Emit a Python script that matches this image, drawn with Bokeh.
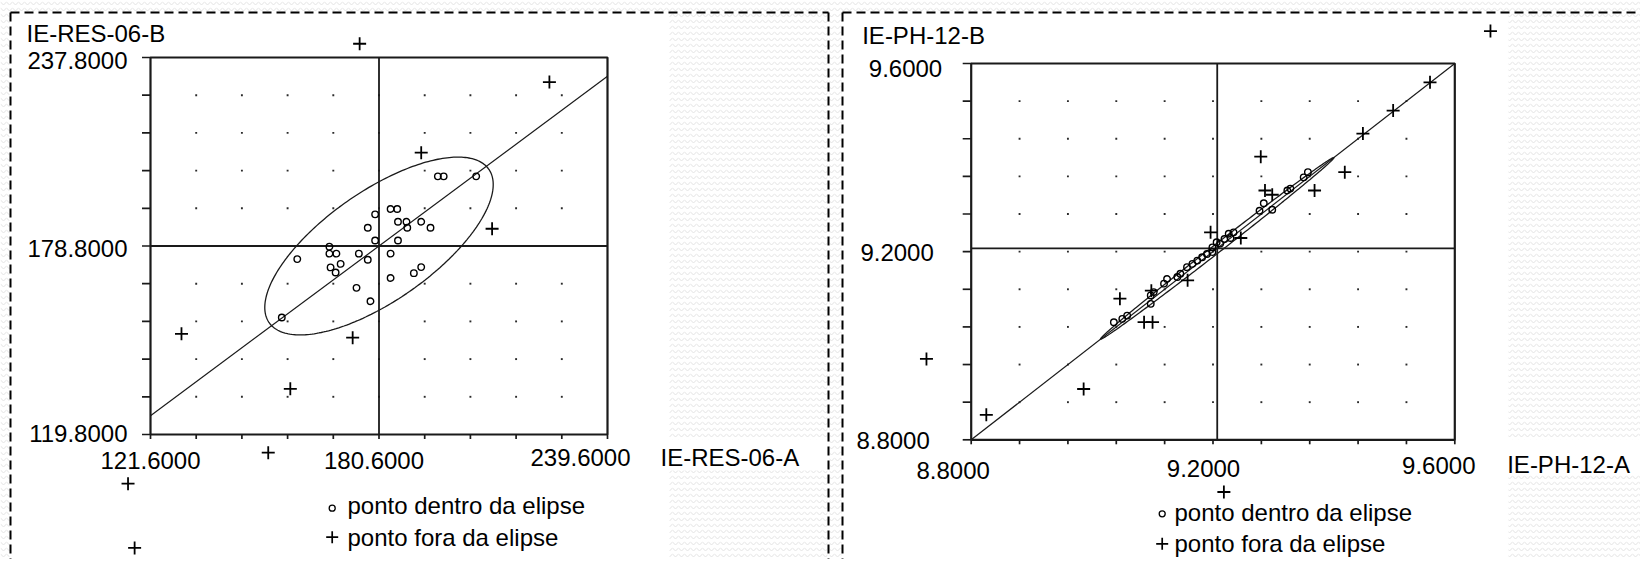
import numpy as np
from bokeh.plotting import figure
from bokeh.models import Range1d, ColumnDataSource
from bokeh.embed import file_html
from bokeh.resources import INLINE
from bokeh.core.properties import value

# =========================== DATA ===========================
# Painel 1 : IE-RES-06
res_x_name = "IE-RES-06-A"
res_y_name = "IE-RES-06-B"
res_x_ticks = [121.6, 180.6, 239.6]
res_x_ticklabels = ["121.6000", "180.6000", "239.6000"]
res_y_ticks = [119.8, 178.8, 237.8]
res_y_ticklabels = ["119.8000", "178.8000", "237.8000"]
res_mean = [180.6, 178.8]            # centro (médias)
res_slope = 0.90                     # inclinação da reta
res_ellipse = [37.3, 15.9, 42.6]     # semi-eixo maior, semi-eixo menor, ângulo (graus)
res_in_x = [195.8, 197.3, 205.7, 183.6, 185.3, 179.6, 177.7, 185.5, 187.7, 187.9,
            191.5, 193.9, 179.6, 185.5, 167.8, 167.8, 169.6, 175.4, 177.7, 183.6,
            159.5, 170.7, 168.1, 169.4, 189.6, 191.5, 183.6, 174.8, 178.4, 155.5]
res_in_y = [200.6, 200.6, 200.6, 190.4, 190.4, 188.7, 184.5, 186.4, 186.4, 184.5,
            186.4, 184.5, 180.5, 180.5, 178.6, 176.4, 176.4, 176.4, 174.5, 176.4,
            174.7, 173.2, 172.1, 170.5, 170.3, 172.2, 168.8, 165.7, 161.5, 156.4]
res_out_x = [175.6, 224.6, 191.5, 209.8, 129.6, 173.8, 157.7, 152.0, 115.8, 117.5]
res_out_y = [242.1, 230.1, 208.0, 184.2, 151.3, 150.1, 134.1, 114.1, 104.4, 84.3]

# Painel 2 : IE-PH-12
ph_x_name = "IE-PH-12-A"
ph_y_name = "IE-PH-12-B"
ph_x_ticks = [8.8, 9.2, 9.6]
ph_x_ticklabels = ["8.8000", "9.2000", "9.6000"]
ph_y_ticks = [8.8, 9.2, 9.6]
ph_y_ticklabels = ["8.8000", "9.2000", "9.6000"]
ph_mean = [9.207, 9.207]
ph_slope = 1.0
ph_ellipse = [0.273, 0.008, 45.0]
ph_in_x = [9.036, 9.050, 9.058, 9.097, 9.097, 9.102, 9.119, 9.124, 9.141, 9.146,
           9.157, 9.166, 9.174, 9.182, 9.190, 9.199, 9.199, 9.206, 9.212, 9.219,
           9.226, 9.234, 9.229, 9.277, 9.284, 9.298, 9.323, 9.328, 9.350, 9.357]
ph_in_y = [9.050, 9.057, 9.064, 9.089, 9.107, 9.114, 9.132, 9.142, 9.146, 9.153,
           9.167, 9.174, 9.181, 9.188, 9.195, 9.199, 9.209, 9.220, 9.217, 9.227,
           9.238, 9.241, 9.229, 9.287, 9.303, 9.289, 9.330, 9.334, 9.358, 9.369]
ph_out_x = [9.659, 9.559, 9.498, 9.448, 9.279, 9.418, 9.368, 9.286, 9.298, 9.246,
            9.196, 9.158, 9.098, 9.046, 9.086, 9.100, 8.986, 8.825, 8.726, 9.218]
ph_out_y = [9.669, 9.560, 9.500, 9.451, 9.402, 9.369, 9.330, 9.330, 9.321, 9.229,
            9.241, 9.139, 9.117, 9.100, 9.050, 9.050, 8.908, 8.853, 8.972, 8.689]

legend_labels = ["ponto dentro da elipse", "ponto fora da elipse"]

# =========================== LAYOUT ===========================
W, H, M = 1640, 559, 0
FONT = value("Liberation Sans")
FS = "24px"
INK = "#1a1a1a"

P1 = dict(X0=150.0, X1=607.0, Y0=57.0, Y1=434.0,
          xlab_dx=[0, -5, -27], xlab_dy=[26, 26, 23],
          ylab_dx=[-23, -23, -23], ylab_dy=[-1, 2, 3],
          xname=(660, 456.7), yname=(26, 32.5),
          leg_mark=(331.7, 507.7, 536.7), leg_text=(347, 505, 536.5))
P2 = dict(X0=970.7, X1=1454.3, Y0=63.0, Y1=439.3,
          xlab_dx=[-18, -9.5, -16], xlab_dy=[31, 29, 26],
          ylab_dx=[-41.4, -37.4, -29], ylab_dy=[1, 1.3, 4.5],
          xname=(1506.7, 464), yname=(861.7, 35),
          leg_mark=(1161.7, 513.3, 543.3), leg_text=(1174, 511.7, 543.2))


def x_range_for(v0, v1, X0, X1):
    s = (X1 - X0) / (v1 - v0)
    start = v0 - (X0 - M) / s
    return Range1d(start, start + W / s)


def y_range_for(v0, v1, Ytop, Ybot):
    s = (Ybot - Ytop) / (v1 - v0)
    start = v0 - ((M + H) - Ybot) / s
    return Range1d(start, start + H / s)


def ellipse_pts(cx, cy, a, b, ang_deg, n=260):
    t = np.linspace(0, 2 * np.pi, n)
    ang = np.deg2rad(ang_deg)
    u, v = a * np.cos(t), b * np.sin(t)
    return cx + u * np.cos(ang) - v * np.sin(ang), cy + u * np.sin(ang) + v * np.cos(ang)


p = figure(width=W, height=H, title=None,
           x_range=x_range_for(res_x_ticks[0], res_x_ticks[-1], P1["X0"], P1["X1"]),
           y_range=y_range_for(res_y_ticks[0], res_y_ticks[-1], P1["Y0"], P1["Y1"]),
           output_backend="svg", toolbar_location=None, min_border=0,
           x_axis_location=None, y_axis_location=None, outline_line_color=None,
           background_fill_color="white", border_fill_color="white")
p.grid.visible = False
p.extra_x_ranges = {"ph": x_range_for(ph_x_ticks[0], ph_x_ticks[-1], P2["X0"], P2["X1"]),
                    "px": Range1d(M, M + W)}
p.extra_y_ranges = {"ph": y_range_for(ph_y_ticks[0], ph_y_ticks[-1], P2["Y0"], P2["Y1"]),
                    "px": Range1d(M + H, M)}
PX = dict(x_range_name="px", y_range_name="px")

# background texture (page behind the charts)
pat = ColumnDataSource(dict(
    left=[0, 669, 669, 829, 1508, 1508, 0],
    right=[1641, 827, 827, 841, 1641, 1641, 9],
    top=[0, 13, 470, 13, 13, 473, 0],
    bottom=[11, 439, 561, 561, 439, 561, 561]))
p.quad(left="left", right="right", top="top", bottom="bottom", source=pat,
       fill_color="white", line_color=None, hatch_pattern="horizontal_wave",
       hatch_color="#e2e2e2", hatch_scale=6, hatch_weight=1, **PX)

# dashed frames
p.segment(x0=[10, 10, 828, 842, 842], y0=[12, 12, 12, 12, 12],
          x1=[10, 828, 828, 842, 1641], y1=[561, 12, 561, 561, 12],
          line_color="black", line_width=2, line_dash="9 5", **PX)


def panel(xn, yn, L, xt, xtl, yt, ytl, mean, slope, ell, in_x, in_y, out_x, out_y,
          xname, yname):
    kw = dict(x_range_name=xn, y_range_name=yn)
    x0, x1 = xt[0], xt[-1]
    y0, y1 = yt[0], yt[-1]
    sx = (L["X1"] - L["X0"]) / (x1 - x0)
    sy = (L["Y1"] - L["Y0"]) / (y1 - y0)
    gx = np.linspace(x0, x1, 11)
    gy = np.linspace(y0, y1, 11)
    # dotted grid
    GX, GY = np.meshgrid(gx[1:-1], gy[1:-1])
    p.scatter(GX.ravel(), GY.ravel(), marker="square", size=1.9,
              fill_color="#2a2a2a", line_color=None, **kw)
    # crosshair at the means
    p.segment(x0=[mean[0], x0], y0=[y0, mean[1]], x1=[mean[0], x1], y1=[y1, mean[1]],
              line_color=INK, line_width=1.8, **kw)
    # box
    p.quad(left=[x0], right=[x1], bottom=[y0], top=[y1], fill_color=None,
           line_color=INK, line_width=2.2, **kw)
    # ticks
    p.segment(x0=gx, y0=[y0] * 11, x1=gx, y1=[y0 - 4.5 / sy] * 11,
              line_color=INK, line_width=1.7, **kw)
    p.segment(x0=[x0] * 11, y0=gy, x1=[x0 - 8.5 / sx] * 11, y1=gy,
              line_color=INK, line_width=1.7, **kw)
    # regression line
    lx = np.array([x0, x1])
    ly = mean[1] + slope * (lx - mean[0])
    p.line(lx, ly, line_color=INK, line_width=1.2, **kw)
    # ellipse
    ex, ey = ellipse_pts(mean[0], mean[1], *ell)
    p.line(ex, ey, line_color=INK, line_width=1.3, **kw)
    # points
    p.scatter(in_x, in_y, marker="circle", size=6.5, fill_color=None,
              line_color="black", line_width=1.4, **kw)
    p.scatter(out_x, out_y, marker="cross", size=13, line_color="black",
              line_width=1.8, **kw)
    # tick labels
    p.text(x=xt, y=[y0] * 3, text=xtl, x_offset=L["xlab_dx"], y_offset=L["xlab_dy"],
           text_align="center", text_baseline="middle", text_font=FONT,
           text_font_size=FS, text_color="black", **kw)
    p.text(x=[x0] * 3, y=yt, text=ytl, x_offset=L["ylab_dx"], y_offset=L["ylab_dy"],
           text_align="right", text_baseline="middle", text_font=FONT,
           text_font_size=FS, text_color="black", **kw)
    # variable names
    p.text(x=[L["xname"][0], L["yname"][0]], y=[L["xname"][1], L["yname"][1]],
           text=[xname, yname], text_align="left", text_baseline="middle",
           text_font=FONT, text_font_size=FS, text_color="black", **PX)
    # legend
    mx, my1, my2 = L["leg_mark"]
    p.scatter([mx], [my1], marker="circle", size=6, fill_color=None,
              line_color="black", line_width=1.3, **PX)
    p.scatter([mx], [my2], marker="cross", size=12, line_color="black",
              line_width=1.7, **PX)
    tx, ty1, ty2 = L["leg_text"]
    p.text(x=[tx, tx], y=[ty1, ty2], text=legend_labels, text_align="left",
           text_baseline="middle", text_font=FONT, text_font_size=FS,
           text_color="black", **PX)


panel("default", "default", P1, res_x_ticks, res_x_ticklabels, res_y_ticks,
      res_y_ticklabels, res_mean, res_slope, res_ellipse, res_in_x, res_in_y,
      res_out_x, res_out_y, res_x_name, res_y_name)
panel("ph", "ph", P2, ph_x_ticks, ph_x_ticklabels, ph_y_ticks, ph_y_ticklabels,
      ph_mean, ph_slope, ph_ellipse, ph_in_x, ph_in_y, ph_out_x, ph_out_y,
      ph_x_name, ph_y_name)

open("out.html", "w").write(file_html(p, INLINE))
